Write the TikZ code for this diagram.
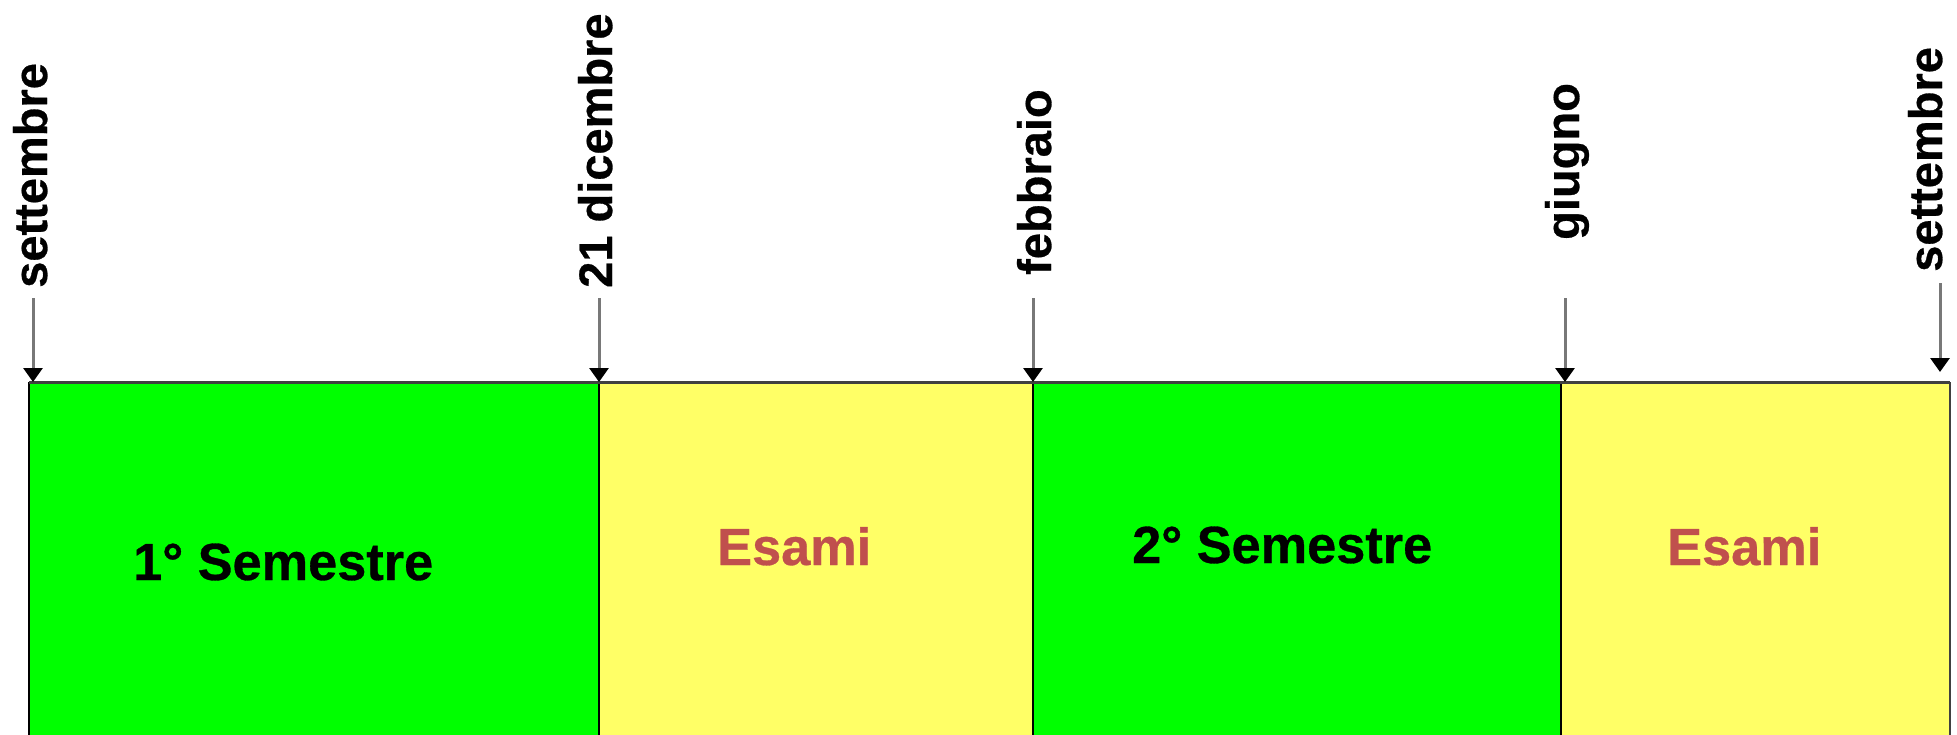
\documentclass[tikz,border=0pt]{standalone}
\usepackage{fontspec}
\setmainfont{Liberation Sans}
\newfontfamily\heavyfont[FakeBold=0.6]{Liberation Sans Bold}
\usetikzlibrary{arrows.meta}
\definecolor{semgreen}{RGB}{0,255,0}
\definecolor{esyellow}{RGB}{255,255,102}
\definecolor{esred}{RGB}{192,80,77}
\definecolor{topline}{RGB}{64,64,64}
\definecolor{arrgray}{RGB}{120,120,120}
\tikzset{
  month/.style={rotate=90,anchor=base west,inner sep=0pt,font=\fontsize{47.2}{56}\heavyfont},
  boxtext/.style={anchor=base west,inner sep=0pt,font=\fontsize{52.5}{62}\heavyfont},
  marker/.style={draw=arrgray,line width=3bp,-{Triangle[width=19bp,length=14bp,color=black]}},
  divider/.style={draw=black,line width=2bp}
}
\begin{document}
\begin{tikzpicture}[x=1bp,y=-1bp]
\useasboundingbox (0,0) rectangle (1957,735);
\begin{scope}
\clip (0,0) rectangle (1957,735);
% coloured periods
\fill[semgreen] (29,382) rectangle (599,760);
\fill[esyellow] (599,382) rectangle (1033,760);
\fill[semgreen] (1033,382) rectangle (1561,760);
\fill[esyellow] (1561,382) rectangle (1950,760);
\draw[divider] (29,382) -- (29,760);
\draw[divider] (599,382) -- (599,760);
\draw[divider] (1033,382) -- (1033,760);
\draw[divider] (1561,382) -- (1561,760);
\draw[draw=topline,line width=2bp] (1950,382) -- (1950,760);
\draw[draw=topline,line width=3bp] (29,382) -- (1950,382);
\end{scope}
% period labels
\node[boxtext] (s1) at (133,580) {1° Semestre};
\node[boxtext,text=esred] (e1) at (717,565) {Esami};
\node[boxtext] (s2) at (1132,563) {2° Semestre};
\node[boxtext,text=esred] (e2) at (1667,565) {Esami};
% month labels
\node[month] (m1) at (47,288) {settembre};
\node[month] (m2) at (612,288) {21 dicembre};
\node[month] (m3) at (1051,275) {febbraio};
\node[month] (m4) at (1579,240) {giugno};
\node[month] (m5) at (1942,272) {settembre};
% arrows
\coordinate (a1) at (33,298);  \coordinate (b1) at (33,382);
\coordinate (a2) at (599,298); \coordinate (b2) at (599,382);
\coordinate (a3) at (1033,298); \coordinate (b3) at (1033,382);
\coordinate (a4) at (1565,298); \coordinate (b4) at (1565,382);
\coordinate (a5) at (1940,283); \coordinate (b5) at (1940,372);
\draw[marker] (a1) -- (b1);
\draw[marker] (a2) -- (b2);
\draw[marker] (a3) -- (b3);
\draw[marker] (a4) -- (b4);
\draw[marker] (a5) -- (b5);
\end{tikzpicture}
\end{document}
